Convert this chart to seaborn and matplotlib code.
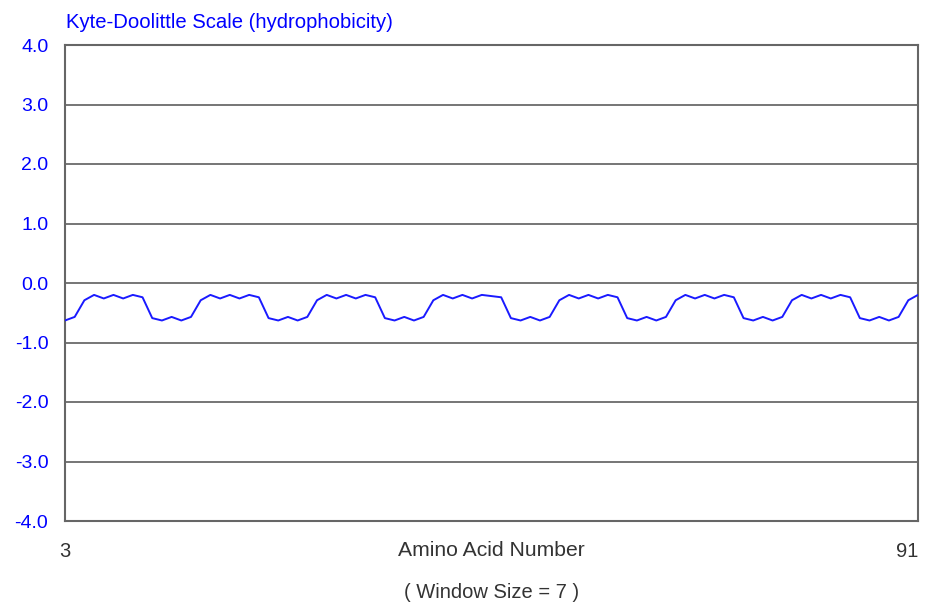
import matplotlib
matplotlib.use("Agg")
import matplotlib.pyplot as plt
import seaborn as sns
import pandas as pd

# Kyte-Doolittle hydropathy profile, sliding window of 7 residues
residues = list(range(3, 92))
hydropathy = [
    -0.63, -0.57,
    -0.29, -0.20, -0.26, -0.20, -0.26, -0.20, -0.24, -0.59, -0.63, -0.57, -0.63, -0.57,
    -0.29, -0.20, -0.26, -0.20, -0.26, -0.20, -0.24, -0.59, -0.63, -0.57, -0.63, -0.57,
    -0.29, -0.20, -0.26, -0.20, -0.26, -0.20, -0.24, -0.59, -0.63, -0.57, -0.63, -0.57,
    -0.29, -0.20, -0.26, -0.20, -0.26, -0.20, -0.22, -0.24, -0.59, -0.63, -0.57, -0.63, -0.57,
    -0.29, -0.20, -0.26, -0.20, -0.26, -0.20, -0.24, -0.59, -0.63, -0.57, -0.63, -0.57,
    -0.29, -0.20, -0.26, -0.20, -0.26, -0.20, -0.24, -0.59, -0.63, -0.57, -0.63, -0.57,
    -0.29, -0.20, -0.26, -0.20, -0.26, -0.20, -0.24, -0.59, -0.63, -0.57, -0.63, -0.57,
    -0.29, -0.20,
]
y_ticks = [4, 3, 2, 1, 0, -1, -2, -3, -4]
y_tick_labels = ["4.0", "3.0", "2.0", "1.0", "0.0", "-1.0", "-2.0", "-3.0", "-4.0"]
x_ticks = [3, 91]
x_tick_labels = ["3", "91"]

df = pd.DataFrame({"residue": residues, "score": hydropathy})

sns.set_style("white")
plt.rcParams["font.family"] = ["Liberation Sans", "DejaVu Sans"]

W, H = 931, 603
fig = plt.figure(figsize=(W / 100, H / 100), dpi=100)
ax = fig.add_axes([65 / W, (H - 521) / H, (918 - 65) / W, (521 - 45) / H])

blue = "#0000ff"
frame_grey = "#666666"
text_grey = "#333333"

# horizontal reference lines at every integer score
for v in y_ticks:
    ax.axhline(v, color="#505050", linewidth=1.1, zorder=1)

sns.lineplot(data=df, x="residue", y="score", ax=ax, color="#1a1aff",
             linewidth=1.4, zorder=3)

ax.set_xlim(3, 91)
ax.set_ylim(-4, 4)

ax.set_yticks(y_ticks)
ax.set_yticklabels(y_tick_labels, color=blue, fontsize=14)
ax.set_xticks(x_ticks)
ax.set_xticklabels(x_tick_labels, color=text_grey, fontsize=14.5)
ax.tick_params(axis="y", length=0, pad=12)
ax.tick_params(axis="x", length=0, pad=15)
# keep the last residue label inside the frame edge
ax.get_xticklabels()[-1].set_horizontalalignment("right")
ax.get_xticklabels()[-1].set_x(91)

ax.set_ylabel("")
ax.set_xlabel("Amino Acid Number", color=text_grey, fontsize=15.2)
ax.xaxis.set_label_coords(0.5, (521 - 541) / 476)

for side in ["left", "right", "top", "bottom"]:
    ax.spines[side].set_visible(True)
    ax.spines[side].set_color(frame_grey)
    ax.spines[side].set_linewidth(1.5)

fig.text(66 / W, (H - 22) / H, "Kyte-Doolittle Scale (hydrophobicity)",
         color=blue, fontsize=14.6, ha="left", va="center")
fig.text(0.5 * (65 + 918) / W, (H - 592) / H, "( Window Size = 7 )",
         color=text_grey, fontsize=14.5, ha="center", va="center")

fig.savefig("out.png", dpi=100, facecolor="white")
